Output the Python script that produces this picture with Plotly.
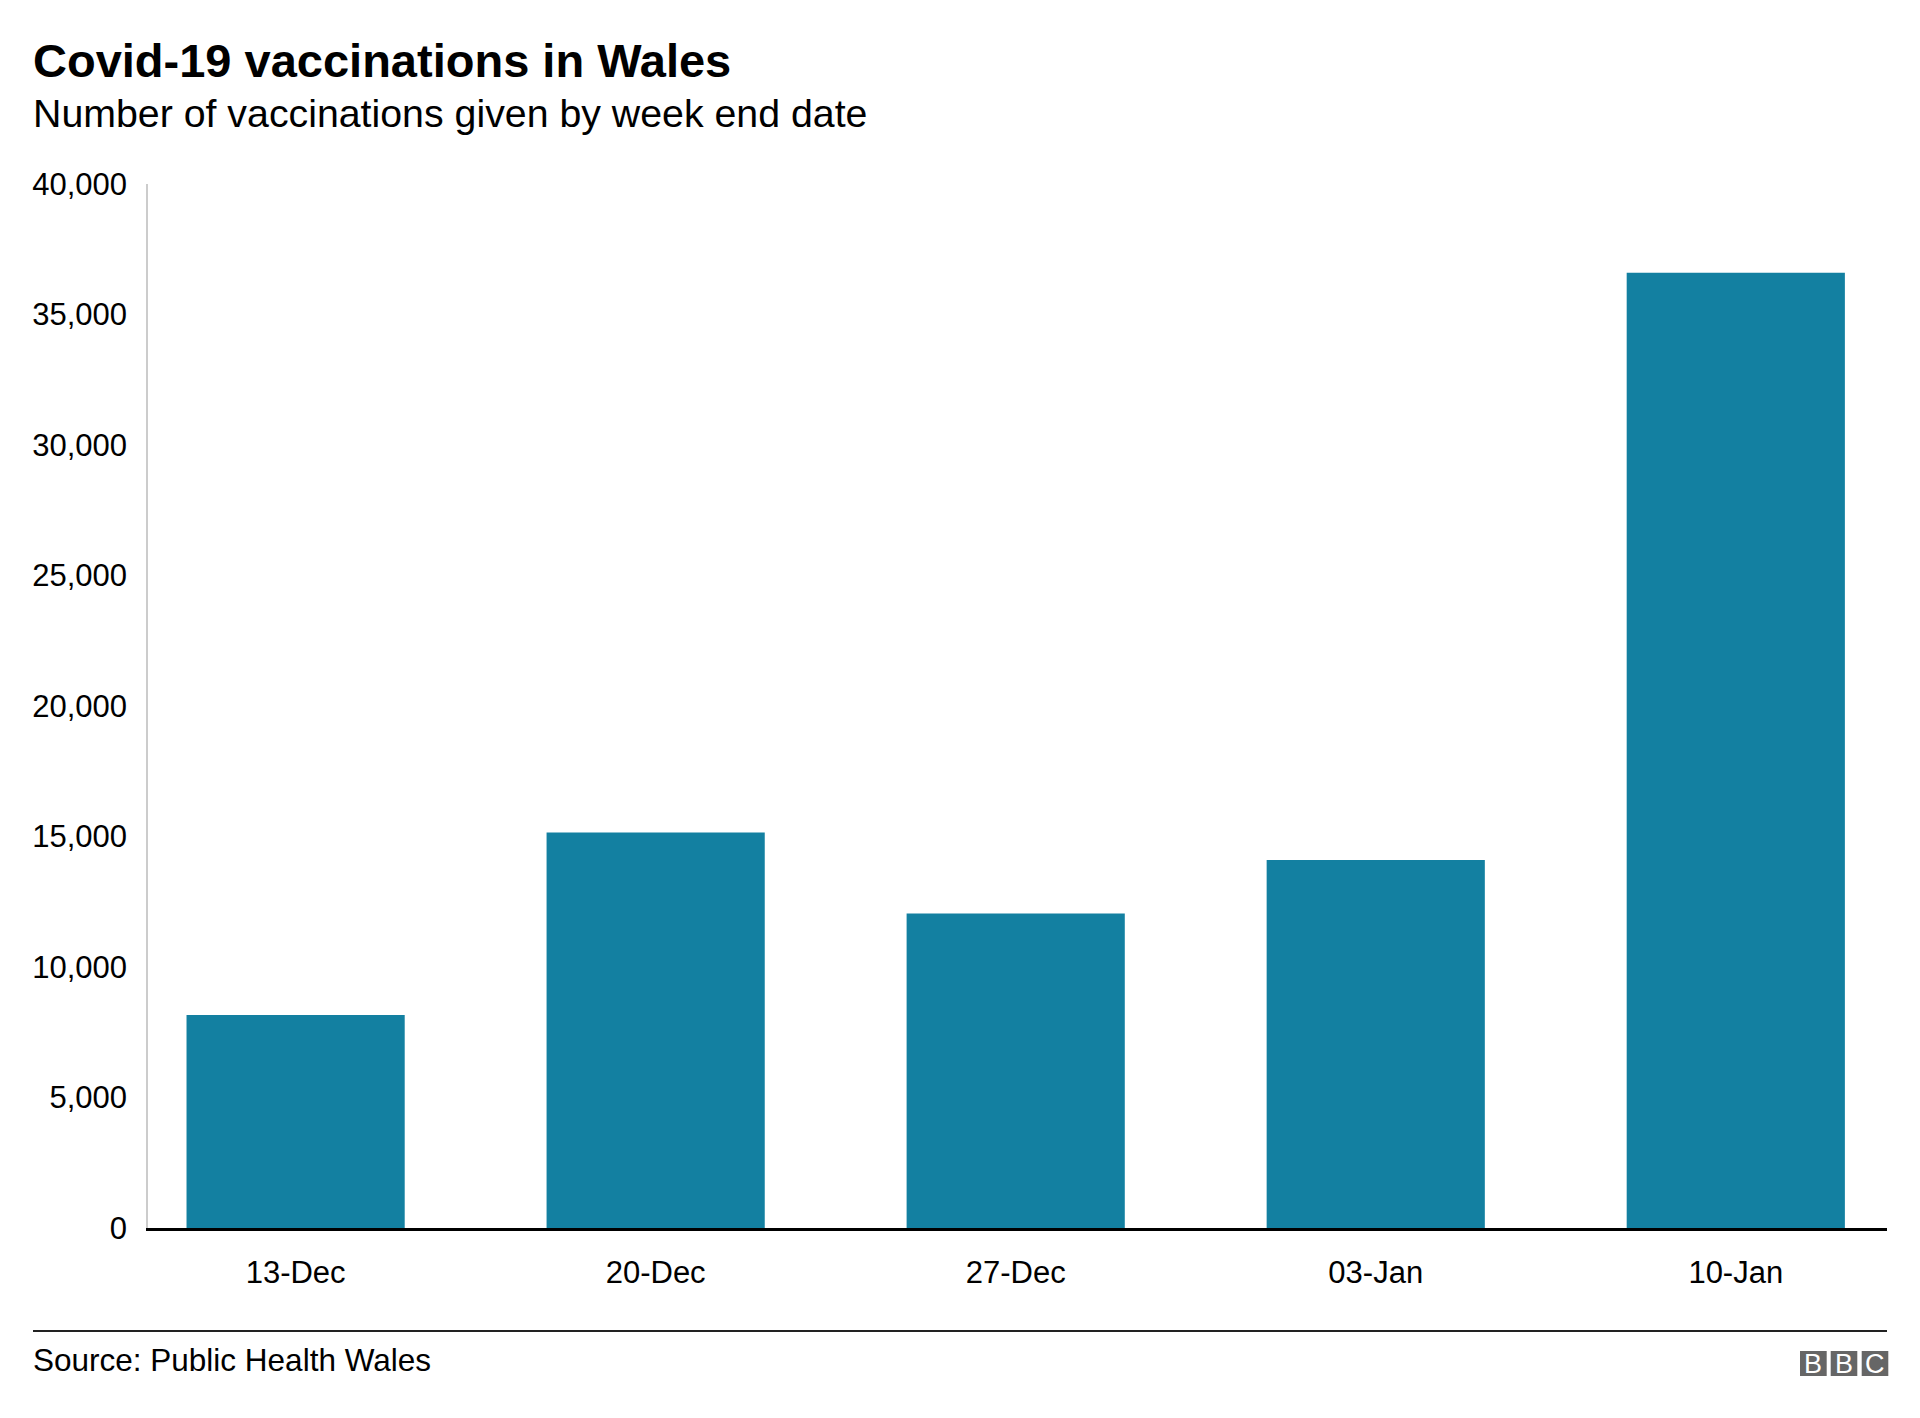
import plotly.graph_objects as go

# Data
weeks = ["13-Dec", "20-Dec", "27-Dec", "03-Jan", "10-Jan"]
vaccinations = [8160, 15150, 12050, 14100, 36600]
y_tickvals = [0, 5000, 10000, 15000, 20000, 25000, 30000, 35000, 40000]
y_ticktext = ["0", "5,000", "10,000", "15,000", "20,000", "25,000", "30,000", "35,000", "40,000"]

FONT = "Liberation Sans, Arial, Helvetica, sans-serif"
TXT = "#000000"
BAR = "#1380A1"

OFF = 8  # browser body margin
W, H = 1904, 1402
ML, MT = 148 - OFF, 184 - OFF
MR = W - (1887 - OFF)
MB = H - (1228 - OFF)
PW = W - ML - MR
PH = H - MT - MB


def px_x(px):
    return (px - OFF - ML) / PW


def px_y(py):
    return (H - MB - (py - OFF)) / PH


fig = go.Figure(
    go.Bar(
        x=weeks,
        y=vaccinations,
        marker=dict(color=BAR, line=dict(width=0)),
        hoverinfo="x+y",
    )
)

annotations = [
    dict(text="<b>Covid-19 vaccinations in Wales</b>", x=px_x(31), y=px_y(60),
         xref="paper", yref="paper", xanchor="left", yanchor="middle",
         showarrow=False, font=dict(family=FONT, size=47, color=TXT)),
    dict(text="Number of vaccinations given by week end date", x=px_x(31), y=px_y(113),
         xref="paper", yref="paper", xanchor="left", yanchor="middle",
         showarrow=False, font=dict(family=FONT, size=39.3, color=TXT)),
    dict(text="Source: Public Health Wales", x=px_x(31), y=px_y(1360),
         xref="paper", yref="paper", xanchor="left", yanchor="middle",
         showarrow=False, font=dict(family=FONT, size=31.5, color=TXT)),
]

shapes = [
    dict(type="line", xref="paper", yref="paper", x0=px_x(33), x1=1.0,
         y0=px_y(1331), y1=px_y(1331), line=dict(color="#222222", width=2)),
]

# BBC logo blocks
blocks = [(1800, 1826.7, "B"), (1830.7, 1857.3, "B"), (1861.7, 1888.3, "C")]
for x0, x1, letter in blocks:
    shapes.append(dict(type="rect", xref="paper", yref="paper",
                       x0=px_x(x0), x1=px_x(x1), y0=px_y(1376), y1=px_y(1351),
                       fillcolor="#666666", line=dict(width=0)))
    annotations.append(dict(text=letter, x=px_x((x0 + x1) / 2), y=px_y(1364),
                            xref="paper", yref="paper", xanchor="center", yanchor="middle",
                            showarrow=False,
                            font=dict(family=FONT, size=27, color="white")))

fig.update_layout(
    width=W, height=H,
    margin=dict(l=ML, r=MR, t=MT, b=MB, autoexpand=False),
    paper_bgcolor="white", plot_bgcolor="white",
    bargap=0.394,
    showlegend=False,
    annotations=annotations,
    shapes=shapes,
    font=dict(family=FONT, color=TXT),
)

fig.update_xaxes(
    type="category",
    range=[-0.41, 4.42],
    showgrid=False,
    showline=True, linecolor="#000000", linewidth=3,
    ticks="", ticklabelstandoff=15,
    tickfont=dict(family=FONT, size=31, color=TXT),
    zeroline=False,
)

fig.update_yaxes(
    range=[0, 40000],
    tickvals=y_tickvals, ticktext=y_ticktext,
    showgrid=False,
    showline=True, linecolor="#cccccc", linewidth=1.5,
    ticks="", ticklabelstandoff=13,
    tickfont=dict(family=FONT, size=31, color=TXT),
    zeroline=False,
)

fig.write_html("out.html")
